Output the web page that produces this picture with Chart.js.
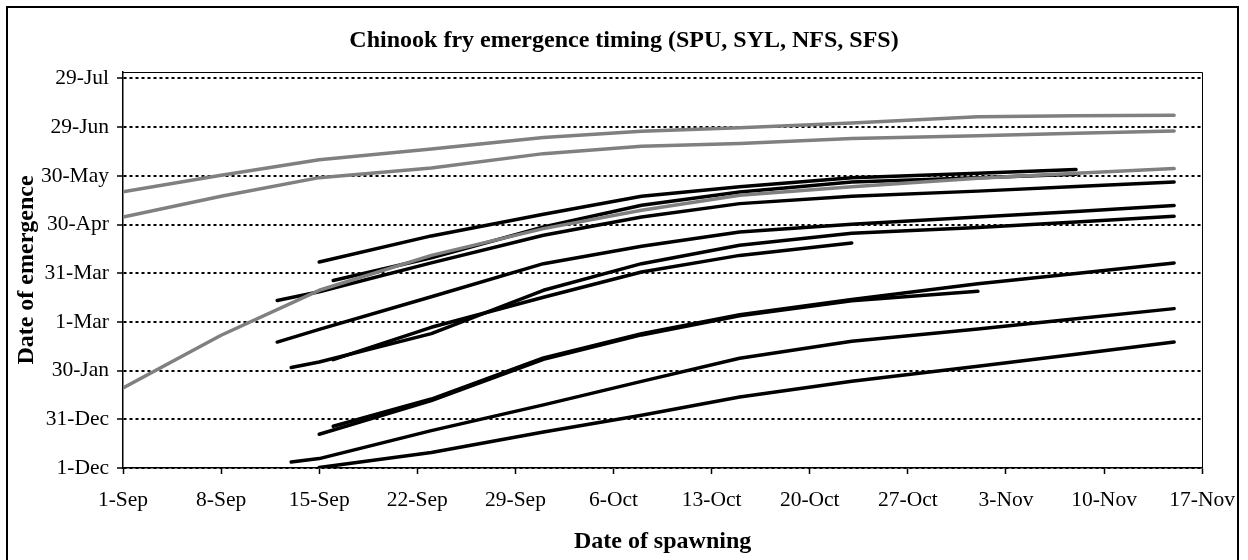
<!DOCTYPE html>
<html>
<head>
<meta charset="utf-8">
<script src="https://cdn.jsdelivr.net/npm/chart.js@4.4.1/dist/chart.umd.min.js"></script>
<style>
  html, body { margin: 0; padding: 0; background: #fff; }
  canvas { display: block; }
</style>
</head>
<body>
<canvas id="chart" width="1248" height="560"></canvas>
<script>
// Spawning date = days after 1 September; emergence date = days after 1 December.
const spawnDays = [0, 7, 11, 12, 14, 15, 22, 30, 37, 44, 52, 61, 68, 75];

const xTickLabels = ['1-Sep', '8-Sep', '15-Sep', '22-Sep', '29-Sep', '6-Oct', '13-Oct',
                     '20-Oct', '27-Oct', '3-Nov', '10-Nov', '17-Nov'];
const xTickDays = [0, 7, 14, 21, 28, 35, 42, 49, 56, 63, 70, 77];
const yTickLabels = ['1-Dec', '31-Dec', '30-Jan', '1-Mar', '31-Mar', '30-Apr', '30-May', '29-Jun', '29-Jul'];
const yTickDays = [0, 30, 60, 90, 120, 150, 180, 210, 240];

// Grey curves
const greyHigh = [170.2, 180.4, null, null, 189.9, null, 196.5, 203.6, 207.5, 209.7, 212.6, 216.4, 217.0, 217.3];
const greyMid  = [154.7, 167.4, null, null, 178.9, null, 184.8, 193.7, 198.2, 199.9, 203.0, 204.7, 206.2, 207.6];
const greyLow  = [49.3, 81.8, null, null, 109.5, null, 131.0, 147.5, 158.8, 168.0, 173.3, 178.5, 181.6, 184.5];

// Black curves
const black1  = [null, null, null, null, 126.9, null, 143.0, 156.3, 167.4, 173.3, 178.9, 181.6, 183.9, null];
const black2  = [null, null, null, null, null, 115.5, 129.5, 148.5, 161.9, 170.0, 176.2, 178.8, 181.0, null];
const black3  = [null, null, 103.2, null, 108.6, null, 126.4, 143.4, 154.7, 162.9, 167.4, 170.6, 173.4, 176.2];
const black4  = [null, null, 77.6, null, 85.4, null, 105.5, 125.9, 136.6, 145.4, 150.2, 154.6, 158.1, 161.7];
const black5  = [null, null, null, 61.9, 65.3, null, 82.8, 109.5, 125.9, 137.2, 144.6, 148.2, 151.6, 155.1];
const black6  = [null, null, null, null, null, 66.8, 86.7, 105.2, 120.8, 131.0, 138.6, null, null, null];
const black7  = [null, null, null, null, null, 25.7, 42.5, 67.8, 82.8, 94.4, 103.8, 113.5, 119.9, 126.3];
const black8  = [null, null, null, null, 20.8, null, 41.5, 67.0, 82.0, 93.8, 103.0, 108.9, null, null];
const black9  = [null, null, null, 3.7, 5.8, null, 23.0, 38.9, 53.4, 67.6, 78.1, 85.6, 91.9, 98.2];
const black10 = [null, null, null, null, 0.3, null, 9.5, 22.2, 32.5, 43.7, 53.4, 62.7, 70.1, 77.6];

const GREY = '#808080';
const BLACK = '#000000';
const SERIF = "'Liberation Serif', 'Times New Roman', serif";

function points(values) {
  const out = [];
  values.forEach((v, i) => { if (v !== null) out.push({ x: spawnDays[i], y: v }); });
  return out;
}

function line(label, values, color) {
  return {
    label,
    data: points(values),
    borderColor: color,
    backgroundColor: color,
    borderWidth: 3.5,
    pointRadius: 0,
    pointHoverRadius: 0,
    tension: 0,
    fill: false,
    borderCapStyle: 'round',
    borderJoinStyle: 'round',
    spanGaps: true
  };
}

// Grey series first so they are painted above the black ones
const datasets = [
  line('Grey 1', greyHigh, GREY),
  line('Grey 2', greyMid, GREY),
  line('Grey 3', greyLow, GREY),
  line('Black 1', black1, BLACK),
  line('Black 2', black2, BLACK),
  line('Black 3', black3, BLACK),
  line('Black 4', black4, BLACK),
  line('Black 5', black5, BLACK),
  line('Black 6', black6, BLACK),
  line('Black 7', black7, BLACK),
  line('Black 8', black8, BLACK),
  line('Black 9', black9, BLACK),
  line('Black 10', black10, BLACK)
];

// White page, plot-area frame (top/right) and the outer chart border
const framePlugin = {
  id: 'frame',
  beforeDraw(chart) {
    const { ctx, width, height } = chart;
    ctx.save();
    ctx.fillStyle = '#ffffff';
    ctx.fillRect(0, 0, width, height);
    ctx.restore();
  },
  afterDraw(chart) {
    const { ctx, chartArea: a } = chart;
    ctx.save();
    ctx.strokeStyle = '#000';
    ctx.lineWidth = 1;
    const t = Math.round(a.top) + 0.5;
    const r = Math.round(a.right) + 0.5;
    ctx.beginPath();
    ctx.moveTo(a.left, t);
    ctx.lineTo(r, t);
    ctx.lineTo(r, a.bottom);
    ctx.stroke();
    ctx.lineWidth = 2;
    ctx.strokeRect(7, 7, 1231, 600);
    ctx.restore();
  }
};

new Chart(document.getElementById('chart'), {
  type: 'line',
  data: { datasets },
  plugins: [framePlugin],
  options: {
    responsive: false,
    animation: false,
    devicePixelRatio: 1,
    layout: { padding: { left: 0, right: 0, top: 0, bottom: 0 } },
    plugins: {
      legend: { display: false },
      tooltip: { enabled: false },
      title: {
        display: true,
        text: 'Chinook fry emergence timing (SPU, SYL, NFS, SFS)',
        color: '#000',
        font: { family: SERIF, size: 24, weight: 'bold' },
        padding: { top: 26, bottom: 17.2 }
      }
    },
    scales: {
      x: {
        type: 'linear',
        position: 'bottom',
        min: 0,
        max: 77,
        afterBuildTicks(scale) { scale.ticks = xTickDays.map(v => ({ value: v })); },
        afterFit(scale) { scale.height = 92; },
        ticks: {
          autoSkip: false,
          maxRotation: 0,
          color: '#000',
          padding: 13,
          font: { family: SERIF, size: 21.5 },
          callback: (v, i) => xTickLabels[i]
        },
        grid: {
          drawOnChartArea: false,
          drawTicks: true,
          tickLength: 6,
          tickColor: '#000',
          tickWidth: 1.5
        },
        border: { display: true, color: '#000', width: 1.5 },
        title: {
          display: true,
          text: 'Date of spawning',
          color: '#000',
          font: { family: SERIF, size: 24, weight: 'bold' },
          padding: { top: 0, bottom: 4.2 }
        }
      },
      y: {
        type: 'linear',
        position: 'left',
        min: 0,
        max: 244,
        afterBuildTicks(scale) { scale.ticks = yTickDays.map(v => ({ value: v })); },
        afterFit(scale) { scale.width = 123; },
        ticks: {
          color: '#000',
          padding: 8,
          font: { family: SERIF, size: 21.5 },
          callback: (v, i) => yTickLabels[i]
        },
        grid: {
          color: '#000',
          lineWidth: 2,
          drawTicks: true,
          tickLength: 6,
          tickColor: '#000',
          tickWidth: 1.5
        },
        border: { display: true, color: '#000', width: 1.5, dash: [3, 3] },
        title: {
          display: true,
          text: 'Date of emergence',
          color: '#000',
          font: { family: SERIF, size: 24, weight: 'bold' },
          padding: { top: 12.6, bottom: 0 }
        }
      },
      yRight: {
        type: 'linear',
        position: 'right',
        display: true,
        afterFit(scale) { scale.width = 41; },
        ticks: { display: false },
        grid: { display: false, drawTicks: false },
        border: { display: false }
      }
    }
  }
});
</script>
</body>
</html>
